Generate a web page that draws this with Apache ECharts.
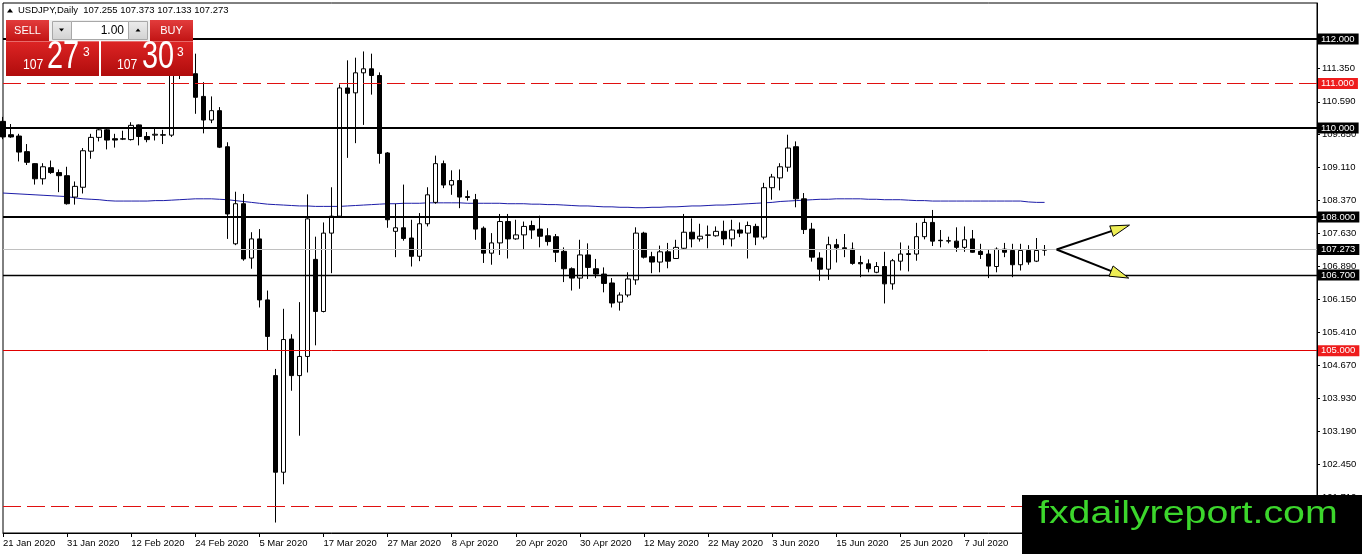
<!DOCTYPE html>
<html><head><meta charset="utf-8">
<script src="https://cdn.jsdelivr.net/npm/echarts@6/dist/echarts.min.js"></script>
<style>html,body{margin:0;padding:0;background:#fff}#c{width:1362px;height:554px}</style>
</head><body><div id="c"></div>
<script>
// ---------------- data ----------------
const symbolName = 'USDJPY,Daily';
const futureSlots = 34;
const opens = [110.15,109.85,109.82,109.47,109.20,108.86,109.11,109.00,108.93,108.45,
108.67,109.48,109.79,109.96,109.76,109.75,109.74,110.07,109.81,109.84,
109.85,109.84,111.39,112.05,111.22,110.71,110.18,110.39,109.58,107.40,
108.30,107.08,107.51,106.14,104.44,102.27,105.26,104.44,104.87,107.05,
105.88,107.64,108.02,110.90,110.79,111.24,111.33,111.18,109.44,107.68,
107.76,107.53,107.12,107.85,108.33,109.20,108.72,108.82,108.46,108.39,
107.75,107.19,107.42,107.90,107.51,107.60,107.81,107.73,107.58,107.56,
107.23,106.84,106.63,107.15,106.84,106.72,106.52,106.09,106.25,106.59,
107.64,107.11,106.99,107.22,107.07,107.30,107.66,107.51,107.59,107.58,
107.68,107.51,107.71,107.64,107.79,107.55,108.66,108.88,109.12,109.58,
108.41,107.73,107.08,106.83,107.38,107.31,107.28,106.98,106.95,106.76,
106.89,106.50,107.01,107.16,107.17,107.56,107.88,107.48,107.46,107.46,
107.32,107.51,107.23,107.17,106.89,107.28,107.25,106.93,107.25,107.01,
107.255];
const highs = [110.25,110.09,109.87,109.64,109.21,109.21,109.27,109.07,109.13,108.80,
109.55,109.87,109.98,109.98,109.87,109.94,110.13,110.08,109.91,109.98,
109.96,111.58,112.23,112.20,111.67,111.03,110.71,110.47,109.68,108.57,
108.52,107.66,107.73,106.35,104.59,105.94,105.37,106.09,108.51,107.56,
107.88,108.67,110.98,111.52,111.58,111.72,111.67,111.25,109.46,108.30,
108.73,107.94,108.09,108.67,109.38,109.27,109.05,109.07,108.60,108.52,
107.79,107.64,108.07,108.07,107.94,107.90,107.92,108.03,107.75,107.62,
107.32,106.87,107.49,107.41,107.06,106.87,106.63,106.31,106.76,107.77,
107.67,107.22,107.36,107.42,107.49,108.07,107.97,107.85,107.81,107.79,
107.92,107.94,107.88,107.90,107.85,108.77,108.97,109.21,109.85,109.70,
108.54,107.87,107.21,107.56,107.51,107.62,107.43,107.13,107.05,106.99,
107.22,107.06,107.43,107.36,107.87,107.97,108.16,107.71,107.56,107.77,
107.79,107.71,107.40,107.27,107.32,107.42,107.40,107.40,107.37,107.53,
107.373];
const lows = [109.75,109.78,109.25,109.17,108.73,108.73,108.97,108.56,108.28,108.28,
108.53,109.31,109.70,109.52,109.56,109.73,109.72,109.61,109.68,109.72,
109.64,109.80,111.10,111.45,110.32,109.88,110.11,109.55,107.51,107.37,
107.02,106.84,105.97,105.00,101.14,102.00,104.10,103.09,104.51,105.12,
105.86,106.74,107.98,109.33,109.66,110.07,110.75,109.20,107.76,107.10,
107.47,106.89,107.01,107.79,108.30,108.65,108.50,108.20,108.37,107.49,
106.97,106.93,107.15,107.07,107.49,107.27,107.51,107.32,107.36,106.99,
106.54,106.35,106.39,106.61,106.63,106.31,105.97,105.90,106.20,106.48,
107.07,106.74,106.76,106.85,107.06,107.27,107.32,107.45,107.30,107.56,
107.37,107.34,107.55,107.07,107.37,107.50,108.39,108.60,109.02,108.22,
107.62,107.00,106.57,106.59,106.98,107.10,106.93,106.65,106.76,106.74,
106.06,106.37,106.80,106.78,107.02,107.50,107.35,107.32,107.41,107.22,
107.22,107.20,107.06,106.63,106.76,107.10,106.65,106.80,106.93,106.99,
107.133];
const closes = [109.80,109.80,109.46,109.23,108.86,109.13,109.00,108.93,108.30,108.69,
109.49,109.79,109.96,109.73,109.73,109.76,110.06,109.81,109.74,109.86,
109.84,111.39,112.05,111.60,110.69,110.18,110.39,109.57,108.07,108.30,
107.06,107.51,106.14,105.32,102.27,105.25,104.44,104.87,107.96,105.88,
107.64,108.02,110.90,110.78,111.24,111.33,111.18,109.43,107.94,107.76,
107.52,107.12,107.85,108.50,109.20,108.72,108.82,108.45,108.44,107.73,
107.19,107.42,107.90,107.51,107.60,107.79,107.71,107.57,107.45,107.21,
106.84,106.63,107.15,106.87,106.72,106.51,106.07,106.25,106.61,107.64,
107.10,106.99,107.22,107.01,107.32,107.66,107.51,107.57,107.60,107.68,
107.51,107.71,107.64,107.81,107.55,108.66,108.90,109.13,109.55,108.41,
107.72,107.10,106.83,107.38,107.31,107.29,106.96,106.95,106.84,106.89,
106.50,107.02,107.17,107.18,107.56,107.88,107.46,107.47,107.47,107.32,
107.49,107.21,107.16,106.90,107.28,107.21,106.93,107.25,106.99,107.25,
107.273];
const maValues = [108.54,108.53,108.52,108.51,108.50,108.49,108.48,108.47,108.46,108.43,
108.41,108.40,108.39,108.37,108.36,108.36,108.36,108.36,108.36,108.37,
108.37,108.38,108.39,108.40,108.41,108.41,108.41,108.40,108.39,108.37,
108.35,108.33,108.31,108.29,108.28,108.27,108.26,108.25,108.25,108.24,
108.24,108.24,108.24,108.25,108.26,108.27,108.28,108.29,108.30,108.30,
108.31,108.31,108.31,108.32,108.32,108.32,108.32,108.32,108.31,108.31,
108.31,108.31,108.31,108.30,108.30,108.30,108.29,108.29,108.28,108.28,
108.27,108.26,108.25,108.25,108.24,108.23,108.23,108.22,108.22,108.21,
108.21,108.22,108.22,108.23,108.23,108.24,108.25,108.25,108.26,108.27,
108.27,108.28,108.29,108.30,108.31,108.32,108.33,108.35,108.36,108.37,
108.38,108.39,108.40,108.40,108.41,108.41,108.41,108.41,108.40,108.40,
108.39,108.39,108.39,108.38,108.37,108.37,108.36,108.36,108.36,108.36,
108.36,108.36,108.36,108.36,108.36,108.36,108.36,108.36,108.34,108.33,
108.33];
const yTickValues = [101.71,102.45,103.19,103.93,104.67,105.41,106.15,106.89,107.63,108.37,109.11,109.85,110.59,111.35];
const solidLevels = [112.0, 110.0, 108.0, 106.7, 105.0];
const dashedLevels = [111.0, 101.5];
const bidPrice = 107.273;
const askPrice = 107.303;
const lotText = '1.00';
const arrowApex = [131.5, 107.273];
const arrowTips = [[140.6, 107.82], [140.5, 106.63]];

// ---------------- styles ----------------
const FONT = 'Liberation Sans';
const solidStyles = [
  {color:'#000000', width:2, bg:'#000'},
  {color:'#000000', width:2, bg:'#000'},
  {color:'#000000', width:2, bg:'#000'},
  {color:'#000000', width:1.3, bg:'#000'},
  {color:'#e00000', width:1, bg:'#ee1c1c'}
];

const months = ['Jan','Feb','Mar','Apr','May','Jun','Jul','Aug','Sep','Oct','Nov','Dec'];
const categories = [];
{
  let t = Date.UTC(2020, 0, 21);
  while (categories.length < opens.length + futureSlots) {
    const d = new Date(t);
    const wd = d.getUTCDay();
    if (wd !== 0 && wd !== 6) categories.push(d.getUTCDate() + ' ' + months[d.getUTCMonth()] + ' ' + d.getUTCFullYear());
    t += 86400000;
  }
}
const candleData = opens.map((o, i) => [o, closes[i], lows[i], highs[i]]);

const mlLabel = {show:true, position:'end', distance:1, color:'#fff', fontSize:9.5, fontFamily:FONT,
                 padding:[1,4,0,3], formatter: p => Number(p.value).toFixed(3)};
const solidData = solidLevels.map((v, i) => ({
  yAxis: v,
  lineStyle: {color: solidStyles[i].color, width: solidStyles[i].width, type: 'solid', opacity: 1},
  label: {backgroundColor: solidStyles[i].bg}
}));
solidData.push({yAxis: closes[closes.length-1], lineStyle:{color:'#c0c0c0', width:1, type:'solid', opacity:1}, label:{backgroundColor:'#000'}});
const dashedData = dashedLevels.map(v => ({yAxis: v}));

const chart = echarts.init(document.getElementById('c'), null, {renderer:'canvas'});
chart.setOption({
  animation: false,
  backgroundColor: '#fff',
  textStyle: {fontFamily: FONT},
  grid: {left:3, right:45, top:3, bottom:21, show:true, borderColor:'#000', borderWidth:1, backgroundColor:'#fff', outerBoundsMode:'none', containLabel:false},
  xAxis: {
    type:'category', data: categories, boundaryGap:false,
    axisLine:{show:true, lineStyle:{color:'#000', width:1}},
    axisTick:{show:true, interval:7, length:4, lineStyle:{color:'#000'}},
    axisLabel:{interval:7, align:'left', color:'#000', fontSize:9.5, fontFamily:FONT, margin:5, hideOverlap:false},
    splitLine:{show:false}
  },
  yAxis: {
    type:'value', position:'right', min:100.905, max:112.808,
    axisLine:{show:true, lineStyle:{color:'#000', width:1}},
    axisTick:{show:true, length:3, customValues: yTickValues, lineStyle:{color:'#000'}},
    axisLabel:{customValues: yTickValues, formatter: v => Number(v).toFixed(3), color:'#000', fontSize:9.5, fontFamily:FONT, margin:5, hideOverlap:false},
    splitLine:{show:false}
  },
  series: [
    {
      type:'line', data: maValues, symbol:'none', z:1,
      lineStyle:{color:'#1c1ca8', width:1}, silent:true,
      markLine:{
        silent:true, symbol:['none','none'], animation:false, precision:3,
        lineStyle:{color:'#e01010', width:1, type:[18,6], opacity:1},
        label: Object.assign({}, mlLabel, {backgroundColor:'#ee1c1c'}),
        emphasis:{disabled:true},
        data: dashedData
      }
    },
    {
      type:'candlestick', data: candleData, barWidth:5, z:2, clip:false, silent:true,
      itemStyle:{color:'#fff', color0:'#000', borderColor:'#000', borderColor0:'#000', borderColorDoji:'#000', borderWidth:1},
      markLine:{
        silent:true, symbol:['none','none'], animation:false, precision:3,
        label: mlLabel,
        emphasis:{disabled:true},
        data: solidData
      }
    }
  ]
});

// ---------------- annotations / chrome ----------------
function toPx(i, v) {
  const i0 = Math.floor(i), f = i - i0;
  const a = chart.convertToPixel({gridIndex:0}, [i0, v]);
  const b = chart.convertToPixel({gridIndex:0}, [i0 + 1, v]);
  return [a[0] + (b[0] - a[0]) * f, a[1]];
}
const els = [];
const apex = toPx(arrowApex[0], arrowApex[1]);
arrowTips.forEach(t => {
  const tip = toPx(t[0], t[1]);
  const dx = tip[0] - apex[0], dy = tip[1] - apex[1];
  const L = Math.hypot(dx, dy), ux = dx / L, uy = dy / L, nx = -uy, ny = ux;
  const hl = 19, hw = 5.5;
  const bx = tip[0] - ux * hl, by = tip[1] - uy * hl;
  els.push({type:'line', z:50, shape:{x1:apex[0], y1:apex[1], x2:bx + ux*3, y2:by + uy*3}, style:{stroke:'#000', lineWidth:2}});
  els.push({type:'polygon', z:51, shape:{points:[tip, [bx + nx*hw, by + ny*hw], [bx - nx*hw, by - ny*hw]]}, style:{fill:'#eeee55', stroke:'#000', lineWidth:1}});
});

const redGrad = (c1, c2) => new echarts.graphic.LinearGradient(0,0,0,1,[{offset:0,color:c1},{offset:1,color:c2}]);
// header
els.push({type:'polygon', z:100, shape:{points:[[7,12.5],[13,12.5],[10,8.5]]}, style:{fill:'#000'}});
els.push({type:'text', z:100, x:18, y:10.5, style:{text: symbolName + '  ' + [opens, highs, lows, closes].map(a => a[a.length-1].toFixed(3)).join(' '), font:'9.5px ' + FONT, fill:'#000', align:'left', verticalAlign:'middle'}});
// buttons
els.push({type:'rect', z:100, shape:{x:6,y:20,width:43,height:21}, style:{fill:redGrad('#e23c3c','#c21414')}});
els.push({type:'text', z:101, x:27.5, y:31, style:{text:'SELL', font:'11px ' + FONT, fill:'#fff', align:'center', verticalAlign:'middle'}});
els.push({type:'rect', z:100, shape:{x:150,y:20,width:43,height:21}, style:{fill:redGrad('#e23c3c','#c21414')}});
els.push({type:'text', z:101, x:171.5, y:31, style:{text:'BUY', font:'11px ' + FONT, fill:'#fff', align:'center', verticalAlign:'middle'}});
els.push({type:'rect', z:100, shape:{x:49,y:20,width:101,height:21}, style:{fill:'#f0f0f0'}});
els.push({type:'rect', z:101, shape:{x:52.5,y:21.5,width:19,height:18}, style:{fill:redGrad('#ececec','#d2d2d2'), stroke:'#a8a8a8', lineWidth:1}});
els.push({type:'polygon', z:102, shape:{points:[[59,28.5],[64,28.5],[61.5,31.5]]}, style:{fill:'#000'}});
els.push({type:'rect', z:101, shape:{x:71.5,y:21.5,width:57,height:18}, style:{fill:'#fff', stroke:'#a8a8a8', lineWidth:1}});
els.push({type:'text', z:102, x:124, y:30.5, style:{text:lotText, font:'12px ' + FONT, fill:'#000', align:'right', verticalAlign:'middle'}});
els.push({type:'rect', z:101, shape:{x:128.5,y:21.5,width:19,height:18}, style:{fill:redGrad('#ececec','#d2d2d2'), stroke:'#a8a8a8', lineWidth:1}});
els.push({type:'polygon', z:102, shape:{points:[[135.5,31.5],[140.5,31.5],[138,28.5]]}, style:{fill:'#000'}});
// price boxes
function priceBox(x0, w, price, xs) {
  const s = price.toFixed(3);
  const big = s.slice(4, 6), small = s.slice(0, 3), last = s.slice(6);
  els.push({type:'rect', z:100, shape:{x:x0,y:42,width:w,height:34}, style:{fill:redGrad('#dc2424','#b00c0c')}});
  els.push({type:'rect', z:100, shape:{x:x0,y:41,width:w,height:1}, style:{fill:'#e86a6a'}});
  els.push({type:'text', z:101, x:xs[0], y:65, scaleX:0.87, style:{text:small, font:'14px ' + FONT, fill:'#fff', align:'left', verticalAlign:'middle'}});
  els.push({type:'text', z:101, x:xs[1], y:57.5, scaleX:0.74, style:{text:big, font:'39px ' + FONT, fill:'#fff', align:'left', verticalAlign:'middle'}});
  els.push({type:'text', z:101, x:xs[2], y:52.5, style:{text:last, font:'12px ' + FONT, fill:'#fff', align:'left', verticalAlign:'middle'}});
}
priceBox(6, 93, bidPrice, [23, 47, 83]);
priceBox(101, 92, askPrice, [117, 142, 177]);
// watermark
els.push({type:'rect', z:100, shape:{x:1022,y:495,width:340,height:59}, style:{fill:'#000'}});
els.push({type:'text', z:101, x:1038, y:514.5, scaleX:1.27, style:{text:'fxdailyreport.com', font:'31px ' + FONT, fill:'#3cd62c', align:'left', verticalAlign:'middle'}});

chart.setOption({graphic:{elements: els}});
</script>
</body></html>
